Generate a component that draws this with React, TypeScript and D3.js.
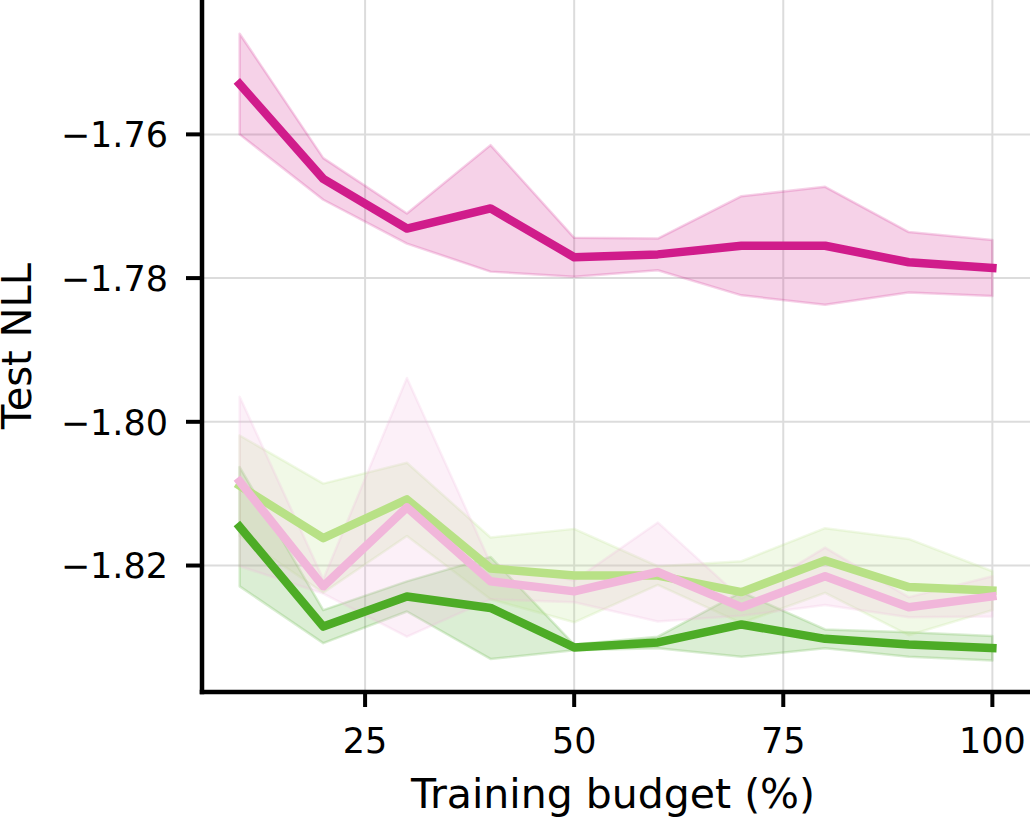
import React, { useEffect, useRef } from 'react';
import * as d3 from 'd3';

// training budget (%)
const budgets = [10, 20, 30, 40, 50, 60, 70, 80, 90, 100];

// mean test NLL and spread (band = mean +/- sd) per method
const magentaMean = [-1.7530, -1.7662, -1.7731, -1.7703, -1.7771, -1.7767, -1.7755, -1.7755, -1.7778, -1.7786];
const magentaSd = [0.0070, 0.0029, 0.0021, 0.0088, 0.0027, 0.0022, 0.0069, 0.0082, 0.0042, 0.0039];

const darkGreenMean = [-1.8146, -1.8285, -1.8243, -1.8259, -1.8314, -1.8307, -1.8282, -1.8302, -1.8310, -1.8315];
const darkGreenSd = [0.0083, 0.0023, 0.0021, 0.0071, 0.0004, 0.0008, 0.0045, 0.0013, 0.0017, 0.0017];

const lightGreenMean = [-1.8089, -1.8162, -1.8108, -1.8204, -1.8214, -1.8214, -1.8237, -1.8193, -1.8230, -1.8235];
const lightGreenSd = [0.0070, 0.0076, 0.0051, 0.0043, 0.0065, 0.0013, 0.0043, 0.0045, 0.0067, 0.0027];

const pinkMean = [-1.8083, -1.8229, -1.8119, -1.8222, -1.8236, -1.8209, -1.8258, -1.8215, -1.8258, -1.8243];
const pinkSd = [0.0118, 0.0010, 0.0180, 0.0025, 0.0015, 0.0069, 0.0012, 0.0040, 0.0014, 0.0028];

const xTicks = [25, 50, 75, 100];
const yTicks = [-1.76, -1.78, -1.80, -1.82];

export default function App() {
    const svgRef = useRef<SVGSVGElement>(null);

    useEffect(() => {
        const svg = d3.select(svgRef.current);
        svg.selectAll('*').remove();

        const left = 202;
        const right = 1030;
        const top = 0;
        const bottom = 692;
        const font = 'DejaVu Sans, sans-serif';

        const x = d3.scaleLinear().domain([5.5, 104.5]).range([left, right]);
        const y = d3.scaleLinear().domain([-1.8376, -1.7413]).range([bottom, top]);

        // grid
        const grid = svg.append('g');
        grid.selectAll('.vgrid')
            .data(xTicks)
            .enter()
            .append('line')
            .attr('x1', (d) => x(d)).attr('x2', (d) => x(d))
            .attr('y1', top).attr('y2', bottom)
            .attr('stroke', '#dcdcdc').attr('stroke-width', 2);
        grid.selectAll('.hgrid')
            .data(yTicks)
            .enter()
            .append('line')
            .attr('x1', left).attr('x2', right)
            .attr('y1', (d) => y(d)).attr('y2', (d) => y(d))
            .attr('stroke', '#dcdcdc').attr('stroke-width', 2);

        const series = [
            { mean: magentaMean, sd: magentaSd, color: '#d01c8b' },
            { mean: darkGreenMean, sd: darkGreenSd, color: '#4dac26' },
            { mean: lightGreenMean, sd: lightGreenSd, color: '#b8e186' },
            { mean: pinkMean, sd: pinkSd, color: '#f1b6da' },
        ];

        // shaded bands
        series.forEach((s) => {
            const band = d3.area<number>()
                .x((_, i) => x(budgets[i]))
                .y0((d, i) => y(d - s.sd[i]))
                .y1((d, i) => y(d + s.sd[i]));
            svg.append('path')
                .attr('d', band(s.mean))
                .attr('fill', s.color)
                .attr('fill-opacity', 0.2)
                .attr('stroke', s.color)
                .attr('stroke-opacity', 0.2)
                .attr('stroke-width', 2.5)
                .attr('stroke-linejoin', 'round');
        });

        // mean lines
        series.forEach((s) => {
            const line = d3.line<number>()
                .x((_, i) => x(budgets[i]))
                .y((d) => y(d));
            svg.append('path')
                .attr('d', line(s.mean))
                .attr('fill', 'none')
                .attr('stroke', s.color)
                .attr('stroke-width', 8.5)
                .attr('stroke-linejoin', 'round')
                .attr('stroke-linecap', 'square');
        });

        // spines
        svg.append('line')
            .attr('x1', left).attr('x2', left)
            .attr('y1', top).attr('y2', bottom + 2.25)
            .attr('stroke', '#000').attr('stroke-width', 4.5);
        svg.append('line')
            .attr('x1', left - 2.25).attr('x2', right)
            .attr('y1', bottom).attr('y2', bottom)
            .attr('stroke', '#000').attr('stroke-width', 4.5);

        // x ticks
        const xt = svg.append('g');
        xt.selectAll('line')
            .data(xTicks)
            .enter()
            .append('line')
            .attr('x1', (d) => x(d)).attr('x2', (d) => x(d))
            .attr('y1', bottom).attr('y2', bottom + 15)
            .attr('stroke', '#000').attr('stroke-width', 4);
        xt.selectAll('text')
            .data(xTicks)
            .enter()
            .append('text')
            .attr('x', (d) => x(d))
            .attr('y', 753)
            .attr('text-anchor', 'middle')
            .attr('font-family', font)
            .attr('font-size', 35)
            .text((d) => String(d));

        // y ticks
        const yt = svg.append('g');
        yt.selectAll('line')
            .data(yTicks)
            .enter()
            .append('line')
            .attr('x1', left - 16).attr('x2', left)
            .attr('y1', (d) => y(d)).attr('y2', (d) => y(d))
            .attr('stroke', '#000').attr('stroke-width', 4);
        yt.selectAll('text')
            .data(yTicks)
            .enter()
            .append('text')
            .attr('x', 168)
            .attr('y', (d) => y(d) + 12.8)
            .attr('text-anchor', 'end')
            .attr('font-family', font)
            .attr('font-size', 35)
            .text((d) => '\u2212' + Math.abs(d).toFixed(2));

        // axis labels
        svg.append('text')
            .attr('x', 613)
            .attr('y', 808)
            .attr('text-anchor', 'middle')
            .attr('font-family', font)
            .attr('font-size', 41)
            .text('Training budget (%)');
        svg.append('text')
            .attr('transform', `translate(31, ${(top + bottom) / 2}) rotate(-90)`)
            .attr('text-anchor', 'middle')
            .attr('font-family', font)
            .attr('font-size', 40)
            .text('Test NLL');
    }, []);

    return (
        <svg ref={svgRef} width={1033} height={818}
            style={{ position: 'absolute', left: 0, top: 0, background: '#fff' }} />
    );
}
